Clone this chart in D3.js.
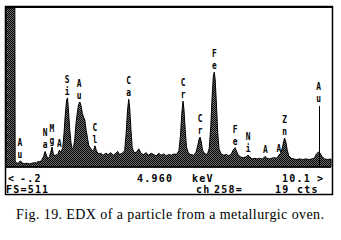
<!DOCTYPE html>
<html>
<head>
<meta charset="utf-8">
<script src="https://cdn.jsdelivr.net/npm/d3@7"></script>
<style>
  body { margin: 0; background: #fff; }
  svg { display: block; }
  text { fill: #000; }
</style>
</head>
<body>
<div id="chart"></div>
<script>
// spectrum: [keV, counts]
const spectrum = [
  [-0.20, 511], [0.08, 511], [0.09, 20], [0.12, 14], [0.18, 12], [0.22, 16], [0.26, 20], [0.30, 13],
  [0.38, 11], [0.46, 12], [0.54, 10], [0.62, 12], [0.70, 14], [0.76, 13], [0.82, 18], [0.88, 16],
  [0.94, 24], [0.99, 34], [1.04, 50], [1.08, 38], [1.13, 26], [1.18, 34], [1.22, 48], [1.26, 64],
  [1.30, 42], [1.35, 36], [1.40, 40], [1.44, 38], [1.49, 54], [1.54, 46], [1.60, 62], [1.64, 110],
  [1.68, 170], [1.72, 215], [1.75, 222], [1.78, 180], [1.82, 120], [1.86, 78], [1.90, 58], [1.94, 62],
  [1.98, 90], [2.02, 140], [2.06, 175], [2.10, 200], [2.14, 209], [2.18, 196], [2.22, 172], [2.26, 160],
  [2.30, 150], [2.34, 118], [2.38, 95], [2.42, 70], [2.48, 60], [2.54, 52], [2.58, 56], [2.62, 68],
  [2.66, 54], [2.72, 42], [2.80, 44], [2.88, 38], [2.96, 44], [3.04, 40], [3.12, 46], [3.20, 38],
  [3.28, 44], [3.34, 50], [3.40, 40], [3.48, 44], [3.56, 52], [3.61, 110], [3.65, 180], [3.69, 218],
  [3.72, 190], [3.76, 120], [3.80, 62], [3.86, 46], [3.94, 48], [4.01, 58], [4.08, 44], [4.16, 40],
  [4.24, 46], [4.32, 38], [4.40, 44], [4.48, 40], [4.56, 36], [4.64, 44], [4.72, 38], [4.80, 42],
  [4.88, 36], [4.96, 40], [5.04, 38], [5.12, 42], [5.20, 40], [5.28, 52], [5.33, 100], [5.37, 170],
  [5.41, 212], [5.44, 185], [5.48, 120], [5.52, 64], [5.58, 44], [5.66, 40], [5.74, 38], [5.82, 46],
  [5.88, 70], [5.92, 90], [5.95, 96], [5.99, 80], [6.03, 54], [6.10, 42], [6.18, 40], [6.24, 60],
  [6.29, 130], [6.33, 220], [6.37, 290], [6.40, 305], [6.43, 280], [6.47, 200], [6.51, 110], [6.55, 58],
  [6.62, 42], [6.70, 38], [6.78, 40], [6.86, 36], [6.94, 42], [7.00, 54], [7.06, 62], [7.10, 52],
  [7.16, 38], [7.24, 32], [7.32, 30], [7.40, 32], [7.47, 38], [7.52, 33], [7.60, 26], [7.68, 28],
  [7.76, 26], [7.84, 28], [7.92, 26], [8.02, 34], [8.06, 28], [8.14, 26], [8.22, 28], [8.30, 30],
  [8.38, 28], [8.45, 38], [8.50, 44], [8.56, 62], [8.60, 82], [8.63, 93], [8.67, 80], [8.71, 56],
  [8.76, 36], [8.84, 28], [8.92, 26], [9.00, 24], [9.10, 26], [9.20, 24], [9.30, 26], [9.40, 24],
  [9.50, 26], [9.58, 30], [9.64, 42], [9.70, 48], [9.76, 44], [9.82, 32], [9.90, 26], [10.00, 24],
  [10.10, 26]
];

// element labels: [name, keV, counts level the label sits on]
const markers = [
  ["Au", 0.24, 18], ["Na", 1.04, 50], ["Mg", 1.25, 64], ["A", 1.49, 54],
  ["Si", 1.74, 222], ["Au", 2.12, 209], ["Cl", 2.62, 68], ["Ca", 3.69, 218],
  ["Cr", 5.41, 212], ["Cr", 5.95, 96], ["Fe", 6.40, 305], ["Fe", 7.06, 62],
  ["Ni", 7.47, 38], ["A", 8.02, 34], ["A", 8.45, 40], ["Zn", 8.63, 93],
  ["Au", 9.71, 199]
];
// Au L-alpha marker drawn as a line
const lineMarkers = [["Au", 9.71, 199]];

const range = [-0.2, 10.1];
const fullScale = 511;
const statusTop = ["<", "-.2", "4.960", "keV", "10.1", ">"];
const statusBottom = ["FS=511", "ch", "258=", "19", "cts"];
const caption = "Fig. 19. EDX of a particle from a metallurgic oven.";

const W = 341, H = 240;
const plot = {left: 6, right: 331, top: 8, bottom: 167};

const svg = d3.select("#chart").append("svg")
  .attr("width", W).attr("height", H);

const defs = svg.append("defs");
const pat = defs.append("pattern").attr("id", "dither")
  .attr("width", 2).attr("height", 2).attr("patternUnits", "userSpaceOnUse");
pat.append("rect").attr("width", 2).attr("height", 2).attr("fill", "#6e6e6e");
pat.append("rect").attr("width", 1).attr("height", 1).attr("fill", "#000");
pat.append("rect").attr("x", 1).attr("y", 1).attr("width", 1).attr("height", 1).attr("fill", "#000");

const x = d3.scaleLinear().domain(range).range([plot.left, plot.right]);
const y = d3.scaleLinear().domain([0, fullScale]).range([plot.bottom, plot.top]);

// spectrum
svg.append("path")
  .datum(spectrum)
  .attr("fill", "url(#dither)")
  .attr("stroke", "#000")
  .attr("stroke-width", 1)
  .attr("d", d3.area()
    .x(d => x(d[0]))
    .y0(y(0))
    .y1(d => y(d[1])));

svg.append("line")
  .attr("x1", plot.left).attr("x2", plot.right)
  .attr("y1", y(0)).attr("y2", y(0))
  .attr("stroke", "#000").attr("stroke-width", 1.5);

// marker lines
svg.selectAll("line.mk")
  .data(lineMarkers)
  .join("line")
  .attr("class", "mk")
  .attr("x1", d => Math.round(x(d[1])) + 0.5).attr("x2", d => Math.round(x(d[1])) + 0.5)
  .attr("y1", d => y(d[2]) + 1).attr("y2", y(0))
  .attr("stroke", "#000").attr("stroke-width", 1);

// vertical element labels
const labels = svg.append("g").attr("opacity", 0.99);
const lab = labels.selectAll("g.lab")
  .data(markers)
  .join("g")
  .attr("class", "lab")
  .attr("transform", d => `translate(${x(d[1])},${y(d[2]) - 3}) scale(0.75,1)`);
lab.each(function(d) {
  const letters = d[0].split("");
  const g = d3.select(this);
  letters.forEach((c, i) => {
    g.append("text")
      .attr("x", 0)
      .attr("y", -(letters.length - 1 - i) * 12)
      .attr("text-anchor", "middle")
      .attr("font-family", "DejaVu Sans Mono")
      .attr("font-weight", "bold")
      .attr("font-size", 10.5)
      .text(c);
  });
});

// frame
svg.append("rect")
  .attr("x", 5.5).attr("y", 6.5).attr("width", 327).attr("height", 188)
  .attr("fill", "none").attr("stroke", "#000").attr("stroke-width", 1.5);
svg.append("line")
  .attr("x1", 5).attr("x2", 333).attr("y1", 7).attr("y2", 7)
  .attr("stroke", "#000").attr("stroke-width", 2);

// status rows
const topX = [8, 20, 137, 192, 282, 317];
const botX = [6, 196, 214, 275, 297];
const statusG = svg.append("g").attr("opacity", 0.99);
const status = (arr, xs, yy) => statusG.append("g").selectAll("text")
  .data(arr)
  .join("text")
  .attr("x", (d, i) => xs[i]).attr("y", yy)
  .attr("font-family", "DejaVu Sans Mono")
  .attr("font-weight", "bold")
  .attr("font-size", 10)
  .attr("letter-spacing", 1.2)
  .text(d => d);
status(statusTop, topX, 182);
status(statusBottom, botX, 193);

svg.append("text")
  .attr("x", 170).attr("y", 219)
  .attr("text-anchor", "middle")
  .attr("font-family", "Liberation Serif")
  .attr("font-size", 14)
  .attr("textLength", 308)
  .attr("lengthAdjust", "spacing")
  .text(caption);
</script>
</body>
</html>
